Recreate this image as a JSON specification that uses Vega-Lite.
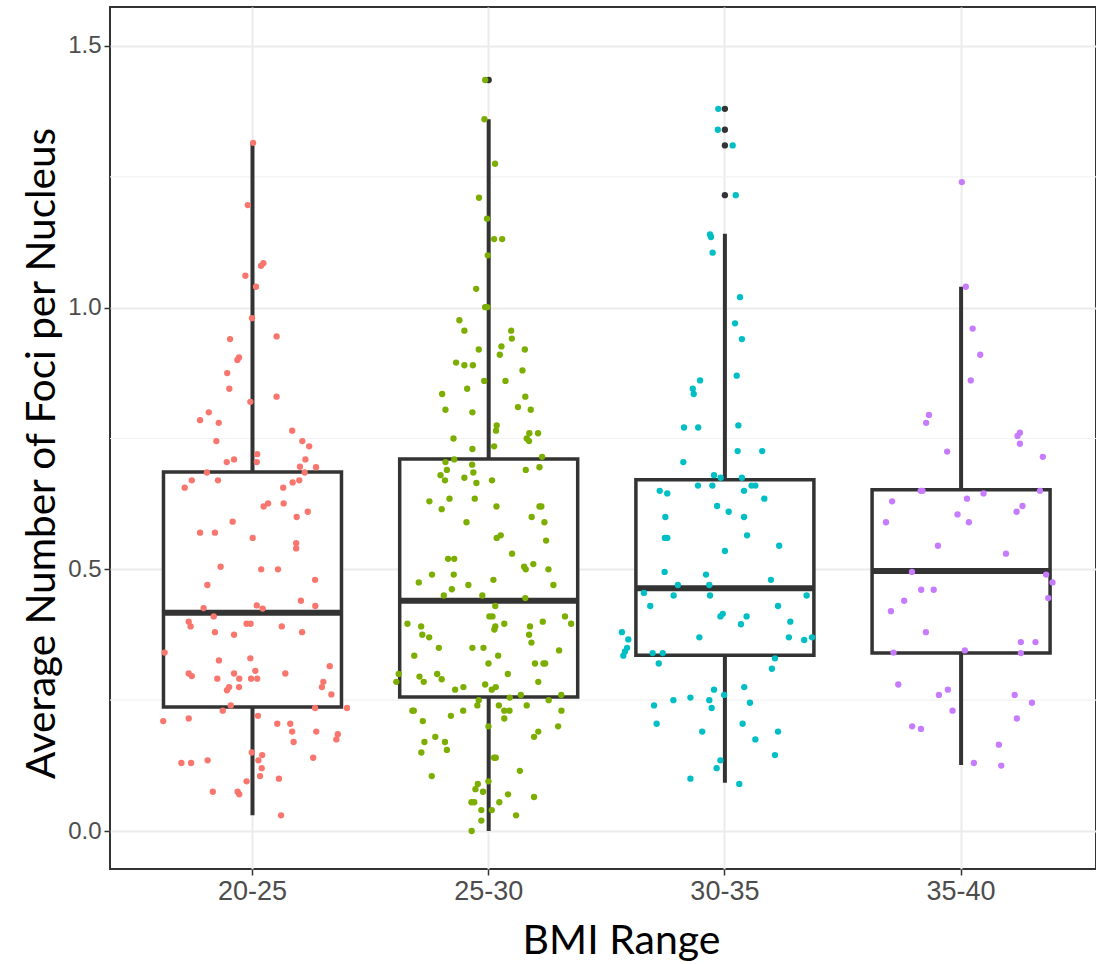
{
  "$schema": "https://vega.github.io/schema/vega-lite/v6.json",
  "autosize": {"type": "none"},
  "width": 986,
  "height": 862,
  "padding": {"left": 110, "top": 7, "right": 0, "bottom": 95},
  "background": "white",
  "config": {
    "view": {"stroke": "#333333", "strokeWidth": 2},
    "axis": {
      "labelFont": "Liberation Sans",
      "labelColor": "#4D4D4D",
      "tickColor": "#333333",
      "tickWidth": 1.5,
      "tickSize": 6,
      "domain": false,
      "gridColor": "#EBEBEB",
      "gridWidth": 2,
      "titleFont": "Lato",
      "titleFontWeight": "normal",
      "titleColor": "#000000"
    }
  },
  "resolve": {"scale": {"xOffset": "independent"}},
  "datasets": {
    "stats": [
      {"bmi": "20-25", "lower": 0.030, "q1": 0.237, "median": 0.417, "q3": 0.686, "upper": 1.315},
      {"bmi": "25-30", "lower": 0.000, "q1": 0.256, "median": 0.440, "q3": 0.711, "upper": 1.360},
      {"bmi": "30-35", "lower": 0.092, "q1": 0.336, "median": 0.464, "q3": 0.671, "upper": 1.141},
      {"bmi": "35-40", "lower": 0.126, "q1": 0.340, "median": 0.497, "q3": 0.652, "upper": 1.040}
    ],
    "outliers": [
      {"bmi": "25-30", "foci": 1.435},
      {"bmi": "30-35", "foci": 1.380},
      {"bmi": "30-35", "foci": 1.340},
      {"bmi": "30-35", "foci": 1.310},
      {"bmi": "30-35", "foci": 1.215}
    ],
    "minor": [{"y": 0.25}, {"y": 0.75}, {"y": 1.25}],
    "points": [
      {"bmi": "20-25", "foci": 1.315, "jitter": 0.003},
      {"bmi": "20-25", "foci": 1.196, "jitter": -0.020},
      {"bmi": "20-25", "foci": 1.085, "jitter": 0.046},
      {"bmi": "20-25", "foci": 1.080, "jitter": 0.036},
      {"bmi": "20-25", "foci": 1.061, "jitter": -0.030},
      {"bmi": "20-25", "foci": 1.040, "jitter": 0.015},
      {"bmi": "20-25", "foci": 0.980, "jitter": -0.002},
      {"bmi": "20-25", "foci": 0.940, "jitter": -0.095},
      {"bmi": "20-25", "foci": 0.945, "jitter": 0.102},
      {"bmi": "20-25", "foci": 0.905, "jitter": -0.057},
      {"bmi": "20-25", "foci": 0.900, "jitter": -0.064},
      {"bmi": "20-25", "foci": 0.875, "jitter": -0.107},
      {"bmi": "20-25", "foci": 0.845, "jitter": -0.098},
      {"bmi": "20-25", "foci": 0.830, "jitter": 0.102},
      {"bmi": "20-25", "foci": 0.820, "jitter": -0.009},
      {"bmi": "20-25", "foci": 0.800, "jitter": -0.185},
      {"bmi": "20-25", "foci": 0.785, "jitter": -0.222},
      {"bmi": "20-25", "foci": 0.780, "jitter": -0.143},
      {"bmi": "20-25", "foci": 0.765, "jitter": 0.168},
      {"bmi": "20-25", "foci": 0.745, "jitter": -0.153},
      {"bmi": "20-25", "foci": 0.745, "jitter": 0.211},
      {"bmi": "20-25", "foci": 0.735, "jitter": 0.240},
      {"bmi": "20-25", "foci": 0.720, "jitter": 0.020},
      {"bmi": "20-25", "foci": 0.710, "jitter": 0.224},
      {"bmi": "20-25", "foci": 0.710, "jitter": -0.078},
      {"bmi": "20-25", "foci": 0.705, "jitter": -0.109},
      {"bmi": "20-25", "foci": 0.705, "jitter": 0.018},
      {"bmi": "20-25", "foci": 0.696, "jitter": 0.201},
      {"bmi": "20-25", "foci": 0.695, "jitter": 0.269},
      {"bmi": "20-25", "foci": 0.685, "jitter": -0.193},
      {"bmi": "20-25", "foci": 0.685, "jitter": 0.221},
      {"bmi": "20-25", "foci": 0.670, "jitter": -0.257},
      {"bmi": "20-25", "foci": 0.670, "jitter": -0.146},
      {"bmi": "20-25", "foci": 0.656, "jitter": -0.287},
      {"bmi": "20-25", "foci": 0.670, "jitter": 0.198},
      {"bmi": "20-25", "foci": 0.666, "jitter": 0.170},
      {"bmi": "20-25", "foci": 0.656, "jitter": 0.130},
      {"bmi": "20-25", "foci": 0.626, "jitter": 0.066},
      {"bmi": "20-25", "foci": 0.620, "jitter": 0.047},
      {"bmi": "20-25", "foci": 0.626, "jitter": 0.132},
      {"bmi": "20-25", "foci": 0.610, "jitter": 0.234},
      {"bmi": "20-25", "foci": 0.600, "jitter": 0.187},
      {"bmi": "20-25", "foci": 0.591, "jitter": -0.084},
      {"bmi": "20-25", "foci": 0.570, "jitter": -0.222},
      {"bmi": "20-25", "foci": 0.570, "jitter": -0.159},
      {"bmi": "20-25", "foci": 0.560, "jitter": 0.001},
      {"bmi": "20-25", "foci": 0.550, "jitter": 0.185},
      {"bmi": "20-25", "foci": 0.540, "jitter": 0.185},
      {"bmi": "20-25", "foci": 0.505, "jitter": -0.135},
      {"bmi": "20-25", "foci": 0.500, "jitter": 0.037},
      {"bmi": "20-25", "foci": 0.500, "jitter": 0.108},
      {"bmi": "20-25", "foci": 0.480, "jitter": 0.265},
      {"bmi": "20-25", "foci": 0.470, "jitter": -0.191},
      {"bmi": "20-25", "foci": 0.440, "jitter": 0.205},
      {"bmi": "20-25", "foci": 0.430, "jitter": 0.266},
      {"bmi": "20-25", "foci": 0.431, "jitter": 0.018},
      {"bmi": "20-25", "foci": 0.425, "jitter": 0.043},
      {"bmi": "20-25", "foci": 0.426, "jitter": -0.207},
      {"bmi": "20-25", "foci": 0.410, "jitter": -0.164},
      {"bmi": "20-25", "foci": 0.400, "jitter": -0.270},
      {"bmi": "20-25", "foci": 0.391, "jitter": -0.262},
      {"bmi": "20-25", "foci": 0.380, "jitter": -0.159},
      {"bmi": "20-25", "foci": 0.375, "jitter": -0.078},
      {"bmi": "20-25", "foci": 0.396, "jitter": -0.025},
      {"bmi": "20-25", "foci": 0.396, "jitter": -0.008},
      {"bmi": "20-25", "foci": 0.391, "jitter": 0.124},
      {"bmi": "20-25", "foci": 0.380, "jitter": 0.210},
      {"bmi": "20-25", "foci": 0.341, "jitter": -0.372},
      {"bmi": "20-25", "foci": 0.326, "jitter": -0.142},
      {"bmi": "20-25", "foci": 0.330, "jitter": -0.009},
      {"bmi": "20-25", "foci": 0.315, "jitter": 0.327},
      {"bmi": "20-25", "foci": 0.301, "jitter": -0.270},
      {"bmi": "20-25", "foci": 0.296, "jitter": -0.257},
      {"bmi": "20-25", "foci": 0.291, "jitter": -0.149},
      {"bmi": "20-25", "foci": 0.301, "jitter": -0.078},
      {"bmi": "20-25", "foci": 0.291, "jitter": -0.056},
      {"bmi": "20-25", "foci": 0.306, "jitter": 0.012},
      {"bmi": "20-25", "foci": 0.291, "jitter": -0.006},
      {"bmi": "20-25", "foci": 0.291, "jitter": 0.020},
      {"bmi": "20-25", "foci": 0.301, "jitter": 0.139},
      {"bmi": "20-25", "foci": 0.285, "jitter": 0.300},
      {"bmi": "20-25", "foci": 0.275, "jitter": 0.294},
      {"bmi": "20-25", "foci": 0.275, "jitter": -0.057},
      {"bmi": "20-25", "foci": 0.275, "jitter": -0.099},
      {"bmi": "20-25", "foci": 0.269, "jitter": -0.108},
      {"bmi": "20-25", "foci": 0.261, "jitter": 0.334},
      {"bmi": "20-25", "foci": 0.240, "jitter": -0.092},
      {"bmi": "20-25", "foci": 0.230, "jitter": -0.126},
      {"bmi": "20-25", "foci": 0.235, "jitter": 0.265},
      {"bmi": "20-25", "foci": 0.235, "jitter": 0.400},
      {"bmi": "20-25", "foci": 0.210, "jitter": -0.378},
      {"bmi": "20-25", "foci": 0.215, "jitter": -0.270},
      {"bmi": "20-25", "foci": 0.220, "jitter": 0.023},
      {"bmi": "20-25", "foci": 0.205, "jitter": 0.105},
      {"bmi": "20-25", "foci": 0.205, "jitter": 0.160},
      {"bmi": "20-25", "foci": 0.190, "jitter": 0.168},
      {"bmi": "20-25", "foci": 0.190, "jitter": 0.270},
      {"bmi": "20-25", "foci": 0.185, "jitter": 0.361},
      {"bmi": "20-25", "foci": 0.175, "jitter": 0.355},
      {"bmi": "20-25", "foci": 0.170, "jitter": 0.174},
      {"bmi": "20-25", "foci": 0.150, "jitter": -0.003},
      {"bmi": "20-25", "foci": 0.145, "jitter": 0.041},
      {"bmi": "20-25", "foci": 0.135, "jitter": 0.025},
      {"bmi": "20-25", "foci": 0.135, "jitter": -0.190},
      {"bmi": "20-25", "foci": 0.130, "jitter": -0.301},
      {"bmi": "20-25", "foci": 0.130, "jitter": -0.260},
      {"bmi": "20-25", "foci": 0.140, "jitter": 0.257},
      {"bmi": "20-25", "foci": 0.120, "jitter": 0.039},
      {"bmi": "20-25", "foci": 0.105, "jitter": 0.032},
      {"bmi": "20-25", "foci": 0.100, "jitter": 0.112},
      {"bmi": "20-25", "foci": 0.095, "jitter": -0.025},
      {"bmi": "20-25", "foci": 0.075, "jitter": -0.168},
      {"bmi": "20-25", "foci": 0.075, "jitter": -0.063},
      {"bmi": "20-25", "foci": 0.070, "jitter": -0.056},
      {"bmi": "20-25", "foci": 0.030, "jitter": 0.121},
      {"bmi": "25-30", "foci": 1.435, "jitter": -0.015},
      {"bmi": "25-30", "foci": 1.360, "jitter": -0.018},
      {"bmi": "25-30", "foci": 1.275, "jitter": 0.027},
      {"bmi": "25-30", "foci": 1.210, "jitter": -0.041},
      {"bmi": "25-30", "foci": 1.170, "jitter": -0.007},
      {"bmi": "25-30", "foci": 1.131, "jitter": 0.023},
      {"bmi": "25-30", "foci": 1.131, "jitter": 0.057},
      {"bmi": "25-30", "foci": 1.100, "jitter": -0.004},
      {"bmi": "25-30", "foci": 1.036, "jitter": -0.053},
      {"bmi": "25-30", "foci": 1.001, "jitter": -0.015},
      {"bmi": "25-30", "foci": 1.001, "jitter": -0.006},
      {"bmi": "25-30", "foci": 0.976, "jitter": -0.124},
      {"bmi": "25-30", "foci": 0.956, "jitter": -0.103},
      {"bmi": "25-30", "foci": 0.956, "jitter": 0.095},
      {"bmi": "25-30", "foci": 0.941, "jitter": 0.098},
      {"bmi": "25-30", "foci": 0.920, "jitter": -0.042},
      {"bmi": "25-30", "foci": 0.926, "jitter": 0.054},
      {"bmi": "25-30", "foci": 0.910, "jitter": 0.047},
      {"bmi": "25-30", "foci": 0.920, "jitter": 0.153},
      {"bmi": "25-30", "foci": 0.895, "jitter": -0.138},
      {"bmi": "25-30", "foci": 0.890, "jitter": -0.103},
      {"bmi": "25-30", "foci": 0.890, "jitter": -0.067},
      {"bmi": "25-30", "foci": 0.880, "jitter": 0.143},
      {"bmi": "25-30", "foci": 0.860, "jitter": -0.019},
      {"bmi": "25-30", "foci": 0.860, "jitter": 0.071},
      {"bmi": "25-30", "foci": 0.835, "jitter": -0.197},
      {"bmi": "25-30", "foci": 0.845, "jitter": -0.091},
      {"bmi": "25-30", "foci": 0.830, "jitter": 0.155},
      {"bmi": "25-30", "foci": 0.805, "jitter": -0.183},
      {"bmi": "25-30", "foci": 0.800, "jitter": -0.069},
      {"bmi": "25-30", "foci": 0.810, "jitter": 0.124},
      {"bmi": "25-30", "foci": 0.805, "jitter": 0.178},
      {"bmi": "25-30", "foci": 0.775, "jitter": 0.034},
      {"bmi": "25-30", "foci": 0.765, "jitter": 0.031},
      {"bmi": "25-30", "foci": 0.760, "jitter": 0.172},
      {"bmi": "25-30", "foci": 0.760, "jitter": 0.209},
      {"bmi": "25-30", "foci": 0.750, "jitter": 0.161},
      {"bmi": "25-30", "foci": 0.745, "jitter": 0.171},
      {"bmi": "25-30", "foci": 0.750, "jitter": -0.149},
      {"bmi": "25-30", "foci": 0.730, "jitter": -0.069},
      {"bmi": "25-30", "foci": 0.735, "jitter": 0.023},
      {"bmi": "25-30", "foci": 0.715, "jitter": 0.226},
      {"bmi": "25-30", "foci": 0.705, "jitter": -0.183},
      {"bmi": "25-30", "foci": 0.710, "jitter": -0.146},
      {"bmi": "25-30", "foci": 0.700, "jitter": -0.070},
      {"bmi": "25-30", "foci": 0.690, "jitter": -0.177},
      {"bmi": "25-30", "foci": 0.680, "jitter": -0.204},
      {"bmi": "25-30", "foci": 0.670, "jitter": -0.185},
      {"bmi": "25-30", "foci": 0.685, "jitter": -0.065},
      {"bmi": "25-30", "foci": 0.675, "jitter": -0.103},
      {"bmi": "25-30", "foci": 0.665, "jitter": -0.052},
      {"bmi": "25-30", "foci": 0.670, "jitter": 0.014},
      {"bmi": "25-30", "foci": 0.690, "jitter": 0.157},
      {"bmi": "25-30", "foci": 0.695, "jitter": 0.215},
      {"bmi": "25-30", "foci": 0.630, "jitter": -0.251},
      {"bmi": "25-30", "foci": 0.635, "jitter": -0.166},
      {"bmi": "25-30", "foci": 0.635, "jitter": -0.059},
      {"bmi": "25-30", "foci": 0.615, "jitter": -0.199},
      {"bmi": "25-30", "foci": 0.620, "jitter": 0.033},
      {"bmi": "25-30", "foci": 0.620, "jitter": 0.215},
      {"bmi": "25-30", "foci": 0.620, "jitter": 0.223},
      {"bmi": "25-30", "foci": 0.600, "jitter": 0.182},
      {"bmi": "25-30", "foci": 0.590, "jitter": -0.094},
      {"bmi": "25-30", "foci": 0.590, "jitter": 0.236},
      {"bmi": "25-30", "foci": 0.560, "jitter": 0.034},
      {"bmi": "25-30", "foci": 0.565, "jitter": 0.051},
      {"bmi": "25-30", "foci": 0.555, "jitter": 0.243},
      {"bmi": "25-30", "foci": 0.530, "jitter": 0.099},
      {"bmi": "25-30", "foci": 0.520, "jitter": -0.172},
      {"bmi": "25-30", "foci": 0.520, "jitter": -0.146},
      {"bmi": "25-30", "foci": 0.505, "jitter": 0.150},
      {"bmi": "25-30", "foci": 0.500, "jitter": 0.157},
      {"bmi": "25-30", "foci": 0.510, "jitter": 0.189},
      {"bmi": "25-30", "foci": 0.500, "jitter": 0.253},
      {"bmi": "25-30", "foci": 0.490, "jitter": -0.240},
      {"bmi": "25-30", "foci": 0.475, "jitter": -0.296},
      {"bmi": "25-30", "foci": 0.490, "jitter": -0.148},
      {"bmi": "25-30", "foci": 0.480, "jitter": 0.020},
      {"bmi": "25-30", "foci": 0.470, "jitter": -0.086},
      {"bmi": "25-30", "foci": 0.462, "jitter": -0.156},
      {"bmi": "25-30", "foci": 0.470, "jitter": 0.274},
      {"bmi": "25-30", "foci": 0.450, "jitter": -0.190},
      {"bmi": "25-30", "foci": 0.450, "jitter": -0.027},
      {"bmi": "25-30", "foci": 0.445, "jitter": 0.155},
      {"bmi": "25-30", "foci": 0.430, "jitter": 0.028},
      {"bmi": "25-30", "foci": 0.410, "jitter": 0.003},
      {"bmi": "25-30", "foci": 0.410, "jitter": 0.016},
      {"bmi": "25-30", "foci": 0.396, "jitter": -0.344},
      {"bmi": "25-30", "foci": 0.391, "jitter": -0.286},
      {"bmi": "25-30", "foci": 0.375, "jitter": -0.281},
      {"bmi": "25-30", "foci": 0.370, "jitter": -0.252},
      {"bmi": "25-30", "foci": 0.391, "jitter": 0.028},
      {"bmi": "25-30", "foci": 0.385, "jitter": 0.024},
      {"bmi": "25-30", "foci": 0.396, "jitter": 0.066},
      {"bmi": "25-30", "foci": 0.391, "jitter": 0.175},
      {"bmi": "25-30", "foci": 0.375, "jitter": 0.171},
      {"bmi": "25-30", "foci": 0.360, "jitter": 0.181},
      {"bmi": "25-30", "foci": 0.400, "jitter": 0.229},
      {"bmi": "25-30", "foci": 0.410, "jitter": 0.323},
      {"bmi": "25-30", "foci": 0.396, "jitter": 0.349},
      {"bmi": "25-30", "foci": 0.350, "jitter": -0.211},
      {"bmi": "25-30", "foci": 0.350, "jitter": -0.069},
      {"bmi": "25-30", "foci": 0.350, "jitter": -0.022},
      {"bmi": "25-30", "foci": 0.335, "jitter": -0.315},
      {"bmi": "25-30", "foci": 0.335, "jitter": 0.040},
      {"bmi": "25-30", "foci": 0.345, "jitter": 0.298},
      {"bmi": "25-30", "foci": 0.320, "jitter": -0.001},
      {"bmi": "25-30", "foci": 0.320, "jitter": 0.196},
      {"bmi": "25-30", "foci": 0.320, "jitter": 0.232},
      {"bmi": "25-30", "foci": 0.320, "jitter": 0.239},
      {"bmi": "25-30", "foci": 0.300, "jitter": -0.381},
      {"bmi": "25-30", "foci": 0.285, "jitter": -0.391},
      {"bmi": "25-30", "foci": 0.295, "jitter": -0.293},
      {"bmi": "25-30", "foci": 0.285, "jitter": -0.275},
      {"bmi": "25-30", "foci": 0.300, "jitter": -0.218},
      {"bmi": "25-30", "foci": 0.290, "jitter": -0.199},
      {"bmi": "25-30", "foci": 0.300, "jitter": 0.081},
      {"bmi": "25-30", "foci": 0.285, "jitter": 0.210},
      {"bmi": "25-30", "foci": 0.270, "jitter": -0.142},
      {"bmi": "25-30", "foci": 0.275, "jitter": -0.107},
      {"bmi": "25-30", "foci": 0.280, "jitter": -0.015},
      {"bmi": "25-30", "foci": 0.270, "jitter": 0.013},
      {"bmi": "25-30", "foci": 0.275, "jitter": 0.030},
      {"bmi": "25-30", "foci": 0.250, "jitter": -0.042},
      {"bmi": "25-30", "foci": 0.240, "jitter": -0.048},
      {"bmi": "25-30", "foci": 0.255, "jitter": 0.089},
      {"bmi": "25-30", "foci": 0.260, "jitter": 0.136},
      {"bmi": "25-30", "foci": 0.250, "jitter": 0.254},
      {"bmi": "25-30", "foci": 0.260, "jitter": 0.307},
      {"bmi": "25-30", "foci": 0.230, "jitter": -0.323},
      {"bmi": "25-30", "foci": 0.230, "jitter": -0.317},
      {"bmi": "25-30", "foci": 0.230, "jitter": -0.108},
      {"bmi": "25-30", "foci": 0.240, "jitter": 0.043},
      {"bmi": "25-30", "foci": 0.230, "jitter": 0.066},
      {"bmi": "25-30", "foci": 0.230, "jitter": 0.088},
      {"bmi": "25-30", "foci": 0.240, "jitter": 0.161},
      {"bmi": "25-30", "foci": 0.230, "jitter": 0.308},
      {"bmi": "25-30", "foci": 0.210, "jitter": -0.279},
      {"bmi": "25-30", "foci": 0.220, "jitter": -0.160},
      {"bmi": "25-30", "foci": 0.215, "jitter": 0.066},
      {"bmi": "25-30", "foci": 0.200, "jitter": -0.001},
      {"bmi": "25-30", "foci": 0.200, "jitter": 0.294},
      {"bmi": "25-30", "foci": 0.190, "jitter": 0.210},
      {"bmi": "25-30", "foci": 0.180, "jitter": 0.192},
      {"bmi": "25-30", "foci": 0.180, "jitter": -0.226},
      {"bmi": "25-30", "foci": 0.170, "jitter": -0.272},
      {"bmi": "25-30", "foci": 0.170, "jitter": -0.185},
      {"bmi": "25-30", "foci": 0.150, "jitter": -0.285},
      {"bmi": "25-30", "foci": 0.155, "jitter": -0.177},
      {"bmi": "25-30", "foci": 0.140, "jitter": 0.023},
      {"bmi": "25-30", "foci": 0.140, "jitter": 0.030},
      {"bmi": "25-30", "foci": 0.105, "jitter": -0.241},
      {"bmi": "25-30", "foci": 0.115, "jitter": 0.132},
      {"bmi": "25-30", "foci": 0.095, "jitter": -0.001},
      {"bmi": "25-30", "foci": 0.090, "jitter": -0.046},
      {"bmi": "25-30", "foci": 0.080, "jitter": -0.056},
      {"bmi": "25-30", "foci": 0.075, "jitter": -0.024},
      {"bmi": "25-30", "foci": 0.070, "jitter": 0.082},
      {"bmi": "25-30", "foci": 0.065, "jitter": 0.192},
      {"bmi": "25-30", "foci": 0.055, "jitter": -0.073},
      {"bmi": "25-30", "foci": 0.055, "jitter": -0.061},
      {"bmi": "25-30", "foci": 0.055, "jitter": 0.045},
      {"bmi": "25-30", "foci": 0.040, "jitter": -0.031},
      {"bmi": "25-30", "foci": 0.040, "jitter": 0.013},
      {"bmi": "25-30", "foci": 0.030, "jitter": 0.116},
      {"bmi": "25-30", "foci": 0.020, "jitter": -0.031},
      {"bmi": "25-30", "foci": 0.000, "jitter": -0.072},
      {"bmi": "30-35", "foci": 1.380, "jitter": -0.028},
      {"bmi": "30-35", "foci": 1.340, "jitter": -0.030},
      {"bmi": "30-35", "foci": 1.310, "jitter": 0.033},
      {"bmi": "30-35", "foci": 1.215, "jitter": 0.046},
      {"bmi": "30-35", "foci": 1.140, "jitter": -0.063},
      {"bmi": "30-35", "foci": 1.135, "jitter": -0.059},
      {"bmi": "30-35", "foci": 1.105, "jitter": -0.052},
      {"bmi": "30-35", "foci": 1.020, "jitter": 0.064},
      {"bmi": "30-35", "foci": 0.970, "jitter": 0.043},
      {"bmi": "30-35", "foci": 0.940, "jitter": 0.072},
      {"bmi": "30-35", "foci": 0.870, "jitter": 0.050},
      {"bmi": "30-35", "foci": 0.861, "jitter": -0.105},
      {"bmi": "30-35", "foci": 0.845, "jitter": -0.136},
      {"bmi": "30-35", "foci": 0.835, "jitter": -0.132},
      {"bmi": "30-35", "foci": 0.771, "jitter": -0.173},
      {"bmi": "30-35", "foci": 0.771, "jitter": -0.113},
      {"bmi": "30-35", "foci": 0.775, "jitter": 0.057},
      {"bmi": "30-35", "foci": 0.726, "jitter": 0.054},
      {"bmi": "30-35", "foci": 0.726, "jitter": 0.158},
      {"bmi": "30-35", "foci": 0.705, "jitter": -0.176},
      {"bmi": "30-35", "foci": 0.680, "jitter": -0.046},
      {"bmi": "30-35", "foci": 0.675, "jitter": -0.018},
      {"bmi": "30-35", "foci": 0.675, "jitter": 0.072},
      {"bmi": "30-35", "foci": 0.660, "jitter": -0.114},
      {"bmi": "30-35", "foci": 0.660, "jitter": -0.053},
      {"bmi": "30-35", "foci": 0.660, "jitter": 0.113},
      {"bmi": "30-35", "foci": 0.660, "jitter": 0.129},
      {"bmi": "30-35", "foci": 0.650, "jitter": -0.276},
      {"bmi": "30-35", "foci": 0.645, "jitter": -0.244},
      {"bmi": "30-35", "foci": 0.650, "jitter": 0.081},
      {"bmi": "30-35", "foci": 0.635, "jitter": 0.167},
      {"bmi": "30-35", "foci": 0.621, "jitter": -0.033},
      {"bmi": "30-35", "foci": 0.610, "jitter": 0.016},
      {"bmi": "30-35", "foci": 0.600, "jitter": 0.081},
      {"bmi": "30-35", "foci": 0.600, "jitter": -0.252},
      {"bmi": "30-35", "foci": 0.560, "jitter": -0.254},
      {"bmi": "30-35", "foci": 0.560, "jitter": -0.244},
      {"bmi": "30-35", "foci": 0.565, "jitter": 0.094},
      {"bmi": "30-35", "foci": 0.545, "jitter": 0.230},
      {"bmi": "30-35", "foci": 0.535, "jitter": 0.000},
      {"bmi": "30-35", "foci": 0.495, "jitter": -0.255},
      {"bmi": "30-35", "foci": 0.490, "jitter": -0.080},
      {"bmi": "30-35", "foci": 0.480, "jitter": 0.195},
      {"bmi": "30-35", "foci": 0.470, "jitter": -0.199},
      {"bmi": "30-35", "foci": 0.470, "jitter": -0.066},
      {"bmi": "30-35", "foci": 0.455, "jitter": -0.343},
      {"bmi": "30-35", "foci": 0.450, "jitter": -0.217},
      {"bmi": "30-35", "foci": 0.450, "jitter": -0.063},
      {"bmi": "30-35", "foci": 0.450, "jitter": 0.346},
      {"bmi": "30-35", "foci": 0.430, "jitter": -0.316},
      {"bmi": "30-35", "foci": 0.430, "jitter": 0.225},
      {"bmi": "30-35", "foci": 0.415, "jitter": -0.009},
      {"bmi": "30-35", "foci": 0.410, "jitter": -0.019},
      {"bmi": "30-35", "foci": 0.410, "jitter": 0.092},
      {"bmi": "30-35", "foci": 0.395, "jitter": 0.068},
      {"bmi": "30-35", "foci": 0.400, "jitter": 0.277},
      {"bmi": "30-35", "foci": 0.380, "jitter": -0.436},
      {"bmi": "30-35", "foci": 0.366, "jitter": -0.409},
      {"bmi": "30-35", "foci": 0.350, "jitter": -0.414},
      {"bmi": "30-35", "foci": 0.343, "jitter": -0.423},
      {"bmi": "30-35", "foci": 0.335, "jitter": -0.430},
      {"bmi": "30-35", "foci": 0.370, "jitter": -0.108},
      {"bmi": "30-35", "foci": 0.370, "jitter": 0.271},
      {"bmi": "30-35", "foci": 0.365, "jitter": 0.336},
      {"bmi": "30-35", "foci": 0.370, "jitter": 0.369},
      {"bmi": "30-35", "foci": 0.340, "jitter": -0.306},
      {"bmi": "30-35", "foci": 0.340, "jitter": -0.263},
      {"bmi": "30-35", "foci": 0.320, "jitter": -0.280},
      {"bmi": "30-35", "foci": 0.330, "jitter": 0.212},
      {"bmi": "30-35", "foci": 0.310, "jitter": 0.199},
      {"bmi": "30-35", "foci": 0.270, "jitter": -0.046},
      {"bmi": "30-35", "foci": 0.275, "jitter": 0.082},
      {"bmi": "30-35", "foci": 0.260, "jitter": -0.003},
      {"bmi": "30-35", "foci": 0.240, "jitter": -0.300},
      {"bmi": "30-35", "foci": 0.250, "jitter": -0.218},
      {"bmi": "30-35", "foci": 0.255, "jitter": -0.146},
      {"bmi": "30-35", "foci": 0.250, "jitter": -0.066},
      {"bmi": "30-35", "foci": 0.235, "jitter": -0.056},
      {"bmi": "30-35", "foci": 0.245, "jitter": 0.106},
      {"bmi": "30-35", "foci": 0.205, "jitter": -0.289},
      {"bmi": "30-35", "foci": 0.205, "jitter": 0.075},
      {"bmi": "30-35", "foci": 0.190, "jitter": -0.096},
      {"bmi": "30-35", "foci": 0.190, "jitter": 0.225},
      {"bmi": "30-35", "foci": 0.175, "jitter": 0.129},
      {"bmi": "30-35", "foci": 0.145, "jitter": 0.212},
      {"bmi": "30-35", "foci": 0.135, "jitter": -0.019},
      {"bmi": "30-35", "foci": 0.120, "jitter": -0.035},
      {"bmi": "30-35", "foci": 0.100, "jitter": -0.146},
      {"bmi": "30-35", "foci": 0.090, "jitter": 0.061},
      {"bmi": "35-40", "foci": 1.240, "jitter": 0.003},
      {"bmi": "35-40", "foci": 1.040, "jitter": 0.020},
      {"bmi": "35-40", "foci": 0.960, "jitter": 0.049},
      {"bmi": "35-40", "foci": 0.910, "jitter": 0.081},
      {"bmi": "35-40", "foci": 0.861, "jitter": 0.041},
      {"bmi": "35-40", "foci": 0.795, "jitter": -0.136},
      {"bmi": "35-40", "foci": 0.780, "jitter": -0.148},
      {"bmi": "35-40", "foci": 0.761, "jitter": 0.249},
      {"bmi": "35-40", "foci": 0.755, "jitter": 0.239},
      {"bmi": "35-40", "foci": 0.740, "jitter": 0.249},
      {"bmi": "35-40", "foci": 0.725, "jitter": -0.059},
      {"bmi": "35-40", "foci": 0.715, "jitter": 0.346},
      {"bmi": "35-40", "foci": 0.650, "jitter": -0.171},
      {"bmi": "35-40", "foci": 0.650, "jitter": -0.163},
      {"bmi": "35-40", "foci": 0.650, "jitter": 0.334},
      {"bmi": "35-40", "foci": 0.630, "jitter": -0.292},
      {"bmi": "35-40", "foci": 0.635, "jitter": 0.025},
      {"bmi": "35-40", "foci": 0.645, "jitter": 0.095},
      {"bmi": "35-40", "foci": 0.590, "jitter": -0.318},
      {"bmi": "35-40", "foci": 0.605, "jitter": -0.015},
      {"bmi": "35-40", "foci": 0.590, "jitter": 0.033},
      {"bmi": "35-40", "foci": 0.610, "jitter": 0.235},
      {"bmi": "35-40", "foci": 0.621, "jitter": 0.260},
      {"bmi": "35-40", "foci": 0.545, "jitter": -0.098},
      {"bmi": "35-40", "foci": 0.530, "jitter": 0.190},
      {"bmi": "35-40", "foci": 0.495, "jitter": -0.208},
      {"bmi": "35-40", "foci": 0.490, "jitter": 0.360},
      {"bmi": "35-40", "foci": 0.475, "jitter": 0.387},
      {"bmi": "35-40", "foci": 0.445, "jitter": 0.369},
      {"bmi": "35-40", "foci": 0.461, "jitter": -0.169},
      {"bmi": "35-40", "foci": 0.461, "jitter": -0.116},
      {"bmi": "35-40", "foci": 0.440, "jitter": -0.241},
      {"bmi": "35-40", "foci": 0.420, "jitter": -0.297},
      {"bmi": "35-40", "foci": 0.380, "jitter": -0.149},
      {"bmi": "35-40", "foci": 0.361, "jitter": 0.253},
      {"bmi": "35-40", "foci": 0.361, "jitter": 0.315},
      {"bmi": "35-40", "foci": 0.341, "jitter": -0.286},
      {"bmi": "35-40", "foci": 0.345, "jitter": 0.016},
      {"bmi": "35-40", "foci": 0.340, "jitter": 0.253},
      {"bmi": "35-40", "foci": 0.280, "jitter": -0.266},
      {"bmi": "35-40", "foci": 0.260, "jitter": -0.094},
      {"bmi": "35-40", "foci": 0.270, "jitter": -0.056},
      {"bmi": "35-40", "foci": 0.260, "jitter": 0.227},
      {"bmi": "35-40", "foci": 0.245, "jitter": 0.300},
      {"bmi": "35-40", "foci": 0.230, "jitter": -0.036},
      {"bmi": "35-40", "foci": 0.215, "jitter": 0.236},
      {"bmi": "35-40", "foci": 0.200, "jitter": -0.207},
      {"bmi": "35-40", "foci": 0.195, "jitter": -0.170},
      {"bmi": "35-40", "foci": 0.165, "jitter": 0.160},
      {"bmi": "35-40", "foci": 0.130, "jitter": 0.054},
      {"bmi": "35-40", "foci": 0.125, "jitter": 0.170}
    ]
  },
  "encoding": {
    "x": {
      "field": "bmi",
      "type": "nominal",
      "sort": ["20-25", "25-30", "30-35", "35-40"],
      "scale": {"type": "band", "domain": ["20-25", "25-30", "30-35", "35-40"], "paddingInner": 0, "paddingOuter": 0.0872, "align": 0.592},
      "axis": {
        "title": "BMI Range",
        "titleFontSize": 41,
        "titleX": 511,
        "titleY": 84,
        "titleAnchor": null,
        "titleAlign": "center",
        "titleBaseline": "alphabetic",
        "labelFontSize": 27,
        "labelAngle": 0,
        "labelPadding": 3,
        "bandPosition": 0.5,
        "grid": true
      }
    }
  },
  "layer": [
    {
      "data": {"name": "minor"},
      "mark": {"type": "rule", "stroke": "#F2F2F2", "strokeWidth": 1.2},
      "encoding": {
        "x": null,
        "y": {
          "field": "y",
          "type": "quantitative",
          "scale": {"domain": [-0.0726, 1.5745], "nice": false, "zero": false},
          "axis": {
            "title": "Average Number of Foci per Nucleus",
            "titleFontSize": 40.5,
            "titleAngle": -90,
            "titleX": -68,
            "titleY": 446,
            "titleAlign": "center",
            "titleBaseline": "middle",
            "values": [0, 0.5, 1, 1.5],
            "format": ".1f",
            "labelFontSize": 24,
            "labelPadding": 3,
            "grid": true
          }
        }
      }
    },
    {
      "data": {"name": "stats"},
      "mark": {"type": "rule", "stroke": "#333333", "strokeWidth": 4},
      "encoding": {
        "y": {"field": "lower", "type": "quantitative"},
        "y2": {"field": "upper"}
      }
    },
    {
      "data": {"name": "stats"},
      "mark": {"type": "bar", "fill": "white", "stroke": "#333333", "strokeWidth": 3.5, "width": 178},
      "encoding": {
        "y": {"field": "q1", "type": "quantitative"},
        "y2": {"field": "q3"}
      }
    },
    {
      "data": {"name": "stats"},
      "mark": {"type": "tick", "color": "#333333", "thickness": 6, "size": 178, "opacity": 1},
      "encoding": {
        "y": {"field": "median", "type": "quantitative"}
      }
    },
    {
      "data": {"name": "outliers"},
      "mark": {"type": "circle", "color": "#333333", "size": 40, "opacity": 1},
      "encoding": {
        "y": {"field": "foci", "type": "quantitative"}
      }
    },
    {
      "data": {"name": "points"},
      "mark": {"type": "circle", "size": 40, "opacity": 1},
      "encoding": {
        "xOffset": {"field": "jitter", "type": "quantitative", "scale": {"domain": [-0.5, 0.5], "nice": false, "zero": false}},
        "y": {"field": "foci", "type": "quantitative"},
        "color": {
          "field": "bmi",
          "type": "nominal",
          "scale": {"domain": ["20-25", "25-30", "30-35", "35-40"], "range": ["#F8766D", "#7CAE00", "#00BFC4", "#C77CFF"]},
          "legend": null
        }
      }
    }
  ]
}
